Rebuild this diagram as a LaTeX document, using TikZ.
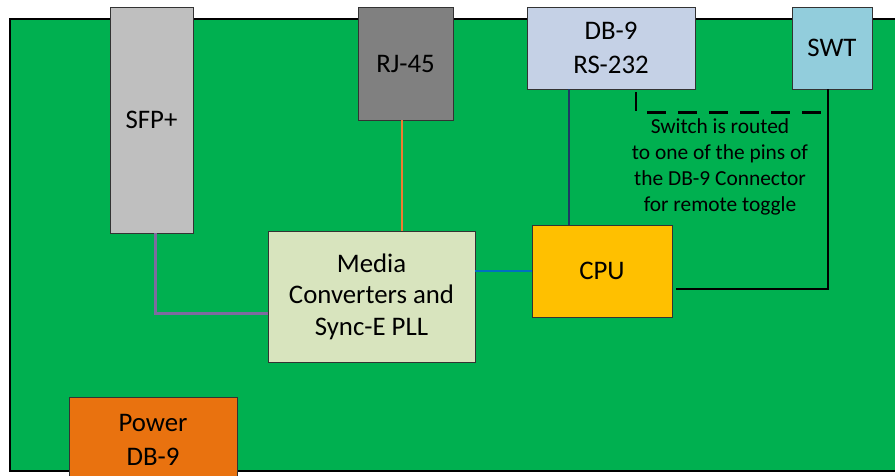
\documentclass[tikz,border=0pt]{standalone}
\usepackage{fontspec}
\setmainfont{Carlito}
\usepackage{xcolor}
\usepackage{tikz}
\usetikzlibrary{positioning}

\definecolor{board}{HTML}{00B050}
\definecolor{sfpgray}{HTML}{BFBFBF}
\definecolor{rjgray}{HTML}{808080}
\definecolor{dbblue}{HTML}{C5D1E6}
\definecolor{swtblue}{HTML}{92CDDC}
\definecolor{mediagreen}{HTML}{D8E4BE}
\definecolor{cpuyellow}{HTML}{FFC000}
\definecolor{powerorange}{HTML}{E9720F}
\definecolor{rjorange}{HTML}{ED7D31}
\definecolor{sfppurple}{HTML}{7E6BA0}
\definecolor{cpublue}{HTML}{0070C0}
\definecolor{dbnavy}{HTML}{1F3864}

\begin{document}
\begin{tikzpicture}[x=1pt, y=-1pt,
    part/.style={draw=black!80, line width=0.8pt, inner sep=0pt, align=center,
                 font=\fontsize{26.8}{34}\selectfont},
    trace/.style={line width=2pt}]
                \useasboundingbox (0,0) rectangle (895,475);
                \clip (0,0) rectangle (895,475);
                \fill[white] (0,0) rectangle (895,475);
                \draw[fill=board, line width=1.2pt] (10,19) rectangle (910,471);

                \node[part, fill=sfpgray, minimum width=83pt, minimum height=226pt] (sfp) at (151.5,120) {SFP+};
                \node[part, fill=rjgray, minimum width=95pt, minimum height=113pt] (rj45) at (405.5,63.5) {RJ-45};
                \node[part, fill=dbblue, minimum width=168pt, minimum height=82pt] (db9) at (611,48) {DB-9\\RS-232};
                \node[part, fill=swtblue, minimum width=80pt, minimum height=82pt] (swt) at (832,48) {SWT};
                \node[part, fill=mediagreen, minimum width=207pt, minimum height=131pt,
                      font=\fontsize{26.8}{31.5}\selectfont] (media) at (371.5,296.5) {Media\\Converters and\\Sync-E PLL};
                \node[part, fill=cpuyellow, minimum width=140pt, minimum height=92pt] (cpu) at (602,271) {CPU};
                \node[part, fill=powerorange, minimum width=168pt, minimum height=86pt] (power) at (153,440) {Power\\DB-9};
                \node[align=center, font=\fontsize{21.4}{26}\selectfont] (note) at (720,167)
                      {Switch is routed\\to one of the pins of\\the DB-9 Connector\\for remote toggle};

                \draw[trace, sfppurple, line width=3pt] ([xshift=3.5pt]sfp.south) |- ([yshift=-16.5pt]media.west);
                \draw[trace, rjorange] ([xshift=-3.5pt]rj45.south) -- ([xshift=-3.5pt]rj45.south |- media.north);
                \draw[trace, cpublue] (media.east |- cpu.west) -- (cpu.west);
                \draw[trace, dbnavy] ([xshift=-42pt]db9.south) -- ([xshift=-42pt]db9.south |- cpu.north);
                \draw[trace, black, line width=2.5pt] ([xshift=-4pt]swt.south) |- ([xshift=4pt, yshift=-18pt]cpu.east);
                \draw[black, line width=2.5pt, dash pattern=on 19pt off 12pt]
                      ([xshift=25pt, yshift=-3pt]db9.south) |- ([xshift=-4pt, yshift=-23pt]swt.south);
            \end{tikzpicture}
\end{document}
